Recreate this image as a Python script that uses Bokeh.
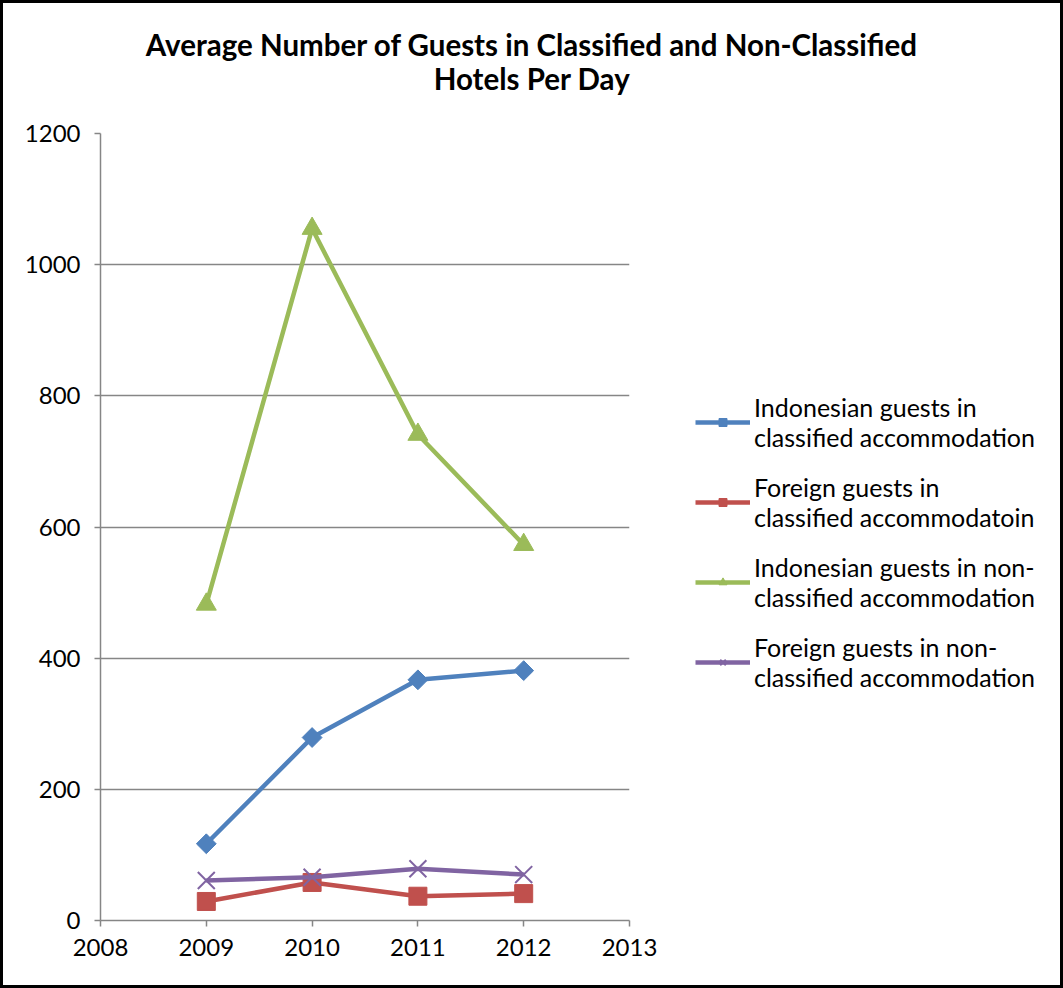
import math
from bokeh.plotting import figure
from bokeh.models import Legend, LegendItem, FixedTicker, Label
from bokeh.layouts import column, row
from bokeh.embed import file_html
from bokeh.resources import INLINE

years = [2009, 2010, 2011, 2012]
indo_classified = [117, 279, 367, 381]
foreign_classified = [29, 58, 37, 41]
indo_nonclassified = [482, 1055, 741, 573]
foreign_nonclassified = [61, 66, 79, 70]

series_names = [
    "Indonesian guests in\nclassified accommodation",
    "Foreign guests in\nclassified accommodatoin",
    "Indonesian guests in non-\nclassified accommodation",
    "Foreign guests in non-\nclassified accommodation",
]
title_lines = ["Average Number of Guests in Classified and Non-Classified", "Hotels Per Day"]
x_ticks = [2008, 2009, 2010, 2011, 2012, 2013]
y_ticks = [0, 200, 400, 600, 800, 1000, 1200]

FONT = "Lato"
COLORS = ["#4F81BD", "#C0504D", "#9BBB59", "#8064A2"]


def blank(fig):
    fig.axis.visible = False
    fig.grid.visible = False
    fig.outline_line_color = None
    fig.background_fill_color = "white"
    fig.border_fill_color = "white"


# ---- title strip ----
tf = figure(width=1057, height=110, output_backend="svg", toolbar_location=None,
            x_range=(0, 1057), y_range=(0, 110),
            min_border=0, min_border_left=0, min_border_right=0, min_border_top=0, min_border_bottom=0)
blank(tf)
tf.add_layout(Label(x=528.5, y=69, text=title_lines[0], text_align="center", text_baseline="middle",
                    text_font=FONT, text_font_size="29.5px", text_font_style="bold", text_color="black"))
tf.add_layout(Label(x=528.5, y=35, text=title_lines[1], text_align="center", text_baseline="middle",
                    text_font=FONT, text_font_size="29.5px", text_font_style="bold", text_color="black"))

# ---- main chart ----
p = figure(width=666, height=872, output_backend="svg", toolbar_location=None,
           x_range=(2008, 2013), y_range=(0, 1200),
           min_border=0, min_border_left=97, min_border_right=40, min_border_top=20, min_border_bottom=65)
p.outline_line_color = None
p.background_fill_color = "white"
p.border_fill_color = "white"
p.xgrid.grid_line_color = None
p.ygrid.grid_line_color = "#868686"
p.ygrid.grid_line_width = 1.5
p.xaxis.ticker = FixedTicker(ticks=x_ticks)
p.yaxis.ticker = FixedTicker(ticks=y_ticks)
for ax in (p.xaxis[0], p.yaxis[0]):
    ax.axis_line_color = "#868686"
    ax.axis_line_width = 1.5
    ax.major_tick_line_color = "#868686"
    ax.major_tick_line_width = 1.5
    ax.major_tick_out = 6
    ax.major_tick_in = 0
    ax.minor_tick_line_color = None
    ax.major_label_text_font = FONT
    ax.major_label_text_font_size = "24px"
    ax.major_label_text_color = "black"
p.xaxis.major_label_standoff = 12
p.yaxis.major_label_standoff = 14

lw = 4.5


def draw(fig):
    rs = []
    a = fig.line(years, indo_classified, line_color=COLORS[0], line_width=lw)
    b = fig.scatter(years, indo_classified, marker="square", size=14, angle=math.pi / 4,
                    fill_color=COLORS[0], line_color=COLORS[0])
    rs.append([a, b])
    a = fig.line(years, foreign_classified, line_color=COLORS[1], line_width=lw)
    b = fig.scatter(years, foreign_classified, marker="square", size=18,
                    fill_color=COLORS[1], line_color=COLORS[1])
    rs.append([a, b])
    a = fig.line(years, indo_nonclassified, line_color=COLORS[2], line_width=lw)
    b = fig.scatter(years, indo_nonclassified, marker="triangle", size=20,
                    fill_color=COLORS[2], line_color=COLORS[2])
    rs.append([a, b])
    a = fig.line(years, foreign_nonclassified, line_color=COLORS[3], line_width=lw)
    b = fig.scatter(years, foreign_nonclassified, marker="x", size=24, line_color=COLORS[3], line_width=2)
    rs.append([a, b])
    return rs


draw(p)

# ---- legend panel (same series; its ranges keep the marks out of view) ----
lf = figure(width=391, height=872, output_backend="svg", toolbar_location=None,
            x_range=(0, 1), y_range=(-1, 0),
            min_border=0, min_border_left=0, min_border_right=0, min_border_top=0, min_border_bottom=0)
blank(lf)
lrs = draw(lf)
legend = Legend(items=[LegendItem(label=series_names[i], renderers=lrs[i]) for i in range(4)],
                location=(26, 228), orientation="vertical",
                label_text_font=FONT, label_text_font_size="25px", label_text_color="black",
                label_text_line_height=1.25,
                glyph_width=55, glyph_height=20, spacing=20, label_standoff=4,
                border_line_color=None, background_fill_alpha=0, padding=0, margin=0)
lf.add_layout(legend, "center")

layout = column(tf, row(p, lf, spacing=0), spacing=0)
layout.styles = {"border": "3px solid black", "background-color": "white"}

open("out.html", "w").write(file_html(layout, INLINE))
